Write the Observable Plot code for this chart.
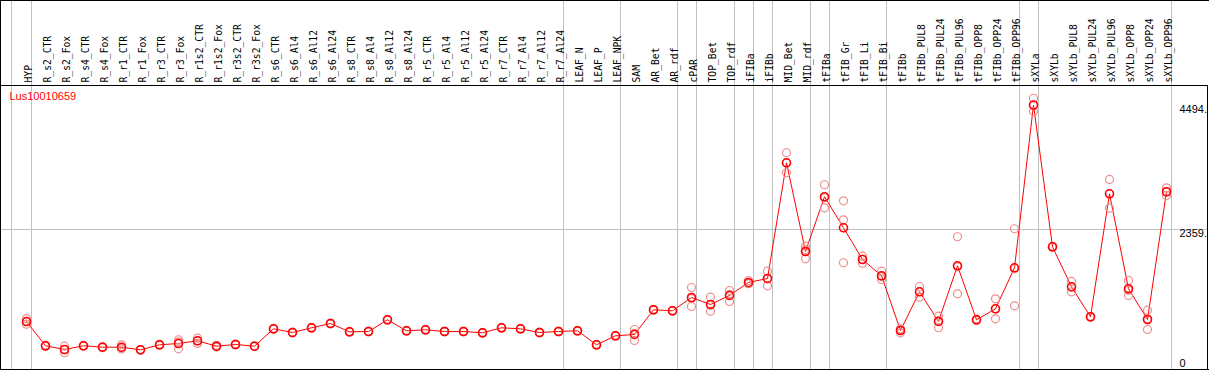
<!DOCTYPE html>
<html><head><meta charset="utf-8">
<script src="https://cdn.jsdelivr.net/npm/d3@7"></script>
<script src="https://cdn.jsdelivr.net/npm/@observablehq/plot@0.6"></script>
<style>html,body{margin:0;padding:0;background:#fff;overflow:hidden} svg{display:block}</style>
</head><body><div id="chart"></div>
<script>
const geneLabel = "Lus10010659";

const categories = ["HYP","R_s2_CTR","R_s2_Fox","R_s4_CTR","R_s4_Fox","R_r1_CTR","R_r1_Fox","R_r3_CTR","R_r3_Fox","R_r1s2_CTR","R_r1s2_Fox","R_r3s2_CTR","R_r3s2_Fox","R_s6_CTR","R_s6_Al4","R_s6_Al12","R_s6_Al24","R_s8_CTR","R_s8_Al4","R_s8_Al12","R_s8_Al24","R_r5_CTR","R_r5_Al4","R_r5_Al12","R_r5_Al24","R_r7_CTR","R_r7_Al4","R_r7_Al12","R_r7_Al24","LEAF_N","LEAF_P","LEAF_NPK","SAM","AR_Bet","AR_rdf","cPAR","TOP_Bet","TOP_rdf","iFIBa","iFIBb","MID_Bet","MID_rdf","tFIBa","tFIB_Gr","tFIB_Li","tFIB_Bi","tFIBb","tFIBb_PUL8","tFIBb_PUL24","tFIBb_PUL96","tFIBb_OPP8","tFIBb_OPP24","tFIBb_OPP96","sXYLa","sXYLb","sXYLb_PUL8","sXYLb_PUL24","sXYLb_PUL96","sXYLb_OPP8","sXYLb_OPP24","sXYLb_OPP96"];

const means = [780,364,300,364,340,340,295,381,403,449,357,386,357,655,592,672,746,604,609,810,621,638,609,609,587,672,655,592,609,621,381,535,558,981,964,1192,1072,1227,1450,1518,3503,1981,2920,2388,1844,1565,626,1290,781,1736,810,998,1702,4494,2062,1376,861,2971,1342,815,3006];

const rep1 = [830,375,357,370,348,381,300,390,467,494,372,392,362,661,598,678,752,610,615,816,627,644,615,615,593,678,661,598,615,627,387,541,643,990,972,1364,1197,1312,1484,1644,3675,2072,3126,2851,1901,1643,655,1381,872,2234,822,1170,2371,4610,2070,1467,868,3217,1484,974,3074];
const rep2 = [780,364,299,364,340,330,295,381,430,449,357,386,357,655,592,672,746,604,609,810,621,638,609,609,587,672,655,592,609,621,381,535,576,981,964,1174,1062,1245,1436,1517,3502,2015,2903,2525,1850,1551,636,1292,798,1718,810,997,1685,4490,2062,1371,861,2972,1315,828,3002];
const rep3 = [735,353,244,358,332,310,290,372,312,404,342,380,352,649,586,666,740,598,603,804,615,632,603,603,581,666,649,586,603,615,375,529,455,972,956,1038,957,1124,1430,1393,3332,1856,2731,1788,1781,1501,587,1197,673,1256,798,827,1050,4382,2054,1290,854,2724,1227,643,2942];

const separators = ["HYP","R_r7_Al24","LEAF_NPK","AR_rdf","cPAR","TOP_rdf","iFIBa","iFIBb","MID_rdf","tFIBa","tFIB_Bi","tFIBb_OPP96","sXYLa","sXYLb_OPP96"];

const tickValues = [0, 2359, 4494];
const tickLabels = ["0", "2359.", "4494."];
const gridValues = [2359];

const meanData = categories.map((c, i) => ({cat: c, v: means[i]}));
const repData = categories.flatMap((c, i) => [rep1[i], rep2[i], rep3[i]].map(v => ({cat: c, v})));
const ticks = tickValues.map((v, i) => ({v, label: tickLabels[i]}));

const chart = Plot.plot({
  width: 1209,
  height: 370,
  marginTop: 85,
  marginLeft: 0,
  marginRight: 2,
  marginBottom: 1,
  style: {background: "white", overflow: "visible"},
  x: {type: "point", domain: categories, range: [26, 1166], padding: 0, axis: null},
  y: {domain: [0, 4494], range: [366.5, 104.5], axis: null},
  marks: [
    Plot.ruleX([categories[0]], {x: d => d, dx: -15, stroke: "#c0c0c0", insetTop: -85}),
    Plot.ruleX(separators, {x: d => d, dx: 5, stroke: "#c0c0c0", insetTop: -85}),
    Plot.ruleY(gridValues, {stroke: "#c0c0c0"}),
    Plot.frame({stroke: "black"}),
    Plot.frame({stroke: "black", insetTop: -85, insetRight: -12}),
    Plot.text(categories, {x: d => d, frameAnchor: "top", dy: -3, dx: -1, rotate: -90, textAnchor: "start",
      fill: "black", fontFamily: "DejaVu Sans Mono", fontSize: 9.7}),
    Plot.line(meanData, {x: "cat", y: "v", stroke: "red", strokeWidth: 1}),
    Plot.dot(repData, {x: "cat", y: "v", r: 4, stroke: "#f08c8c", strokeWidth: 1.2}),
    Plot.dot(meanData, {x: "cat", y: "v", r: 4, stroke: "red", strokeWidth: 1.6}),
    Plot.text(ticks.filter(d => d.v > 0), {y: "v", text: "label", frameAnchor: "right", dx: -28,
      textAnchor: "start", lineAnchor: "top", fill: "black", fontFamily: "Liberation Sans", fontSize: 11}),
    Plot.text(ticks.filter(d => d.v === 0), {y: "v", text: "label", frameAnchor: "right", dx: -28,
      textAnchor: "start", lineAnchor: "bottom", fill: "black", fontFamily: "Liberation Sans", fontSize: 11}),
    Plot.text([geneLabel], {frameAnchor: "top-left", dx: 9, dy: 7, lineAnchor: "top", textAnchor: "start",
      fill: "red", fontFamily: "Liberation Sans", fontSize: 11})
  ]
});
document.getElementById("chart").appendChild(chart);
</script>
</body></html>
